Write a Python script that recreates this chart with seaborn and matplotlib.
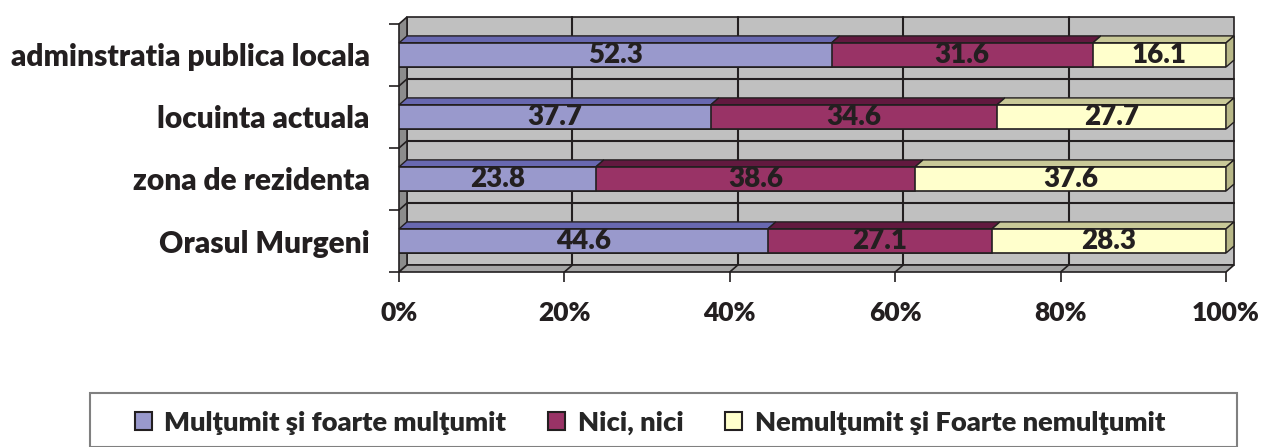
import numpy as np
import pandas as pd
import seaborn as sns
import matplotlib.pyplot as plt
from matplotlib.patches import Polygon, Rectangle, Patch

# data
categories = ['adminstratia publica locala', 'locuinta actuala', 'zona de rezidenta', 'Orasul Murgeni']
series = ['Mulţumit şi foarte mulţumit', 'Nici, nici', 'Nemulţumit şi Foarte nemulţumit']
multumit = [52.3, 37.7, 23.8, 44.6]
nici = [31.6, 34.6, 38.6, 27.1]
nemultumit = [16.1, 27.7, 37.6, 28.3]
x_ticks = [0, 20, 40, 60, 80, 100]
x_labels = ['0%', '20%', '40%', '60%', '80%', '100%']

front = ['#9999CC', '#993366', '#FFFFCC']
top = ['#6868B0', '#62193F', '#C9C998']
side_col = '#B8B888'
ink = '#231F20'
WT = 'heavy'

sns.set_style('white')
plt.rcParams['font.family'] = ['Lato', 'DejaVu Sans']
plt.rcParams['font.weight'] = WT

fig = plt.figure(figsize=(12.61, 4.47), dpi=100)
W, H = 1261, 447
# front plane of the plot: x 399..1226 px, y 24..272 px
ax = fig.add_axes([399 / W, 1 - 272 / H, 827 / W, 248 / H])

df = pd.DataFrame({'cat': categories, 'a': multumit, 'b': nici, 'c': nemultumit})
df['ab'] = df['a'] + df['b']
df['abc'] = df['ab'] + df['c']

bar_h = 0.39
# widest first, so stacked pieces sit on top
for col, c in zip(['abc', 'ab', 'a'], front[::-1]):
    sns.barplot(data=df, x=col, y='cat', orient='h', color=c, saturation=1,
                width=bar_h, edgecolor=ink, linewidth=1.2, ax=ax, zorder=3)

ax.set_xlim(0, 100)
ax.set_ylim(3.5, -0.5)

# 3d depth in data units
ddx = 8 / 827 * 100
ddy = 7 / 62

# back wall, left wall, floor
ax.add_patch(Polygon([(ddx, -0.5 - ddy), (100 + ddx, -0.5 - ddy), (100 + ddx, 3.5 - ddy), (ddx, 3.5 - ddy)],
                     closed=True, fc='#C0C0C0', ec=ink, lw=1.2, clip_on=False, zorder=0))
ax.add_patch(Polygon([(0, -0.5), (ddx, -0.5 - ddy), (ddx, 3.5 - ddy), (0, 3.5)],
                     closed=True, fc='#8C8C8C', ec=ink, lw=1.2, clip_on=False, zorder=1))
ax.add_patch(Polygon([(0, 3.5), (ddx, 3.5 - ddy), (100 + ddx, 3.5 - ddy), (100, 3.5)],
                     closed=True, fc='#A6A6A6', ec=ink, lw=1.2, clip_on=False, zorder=1))
for xv in x_ticks[1:-1]:
    ax.plot([xv + ddx, xv + ddx], [-0.5 - ddy, 3.5 - ddy], color=ink, lw=1.5, zorder=0.5, clip_on=False)
    ax.plot([xv, xv + ddx], [3.5, 3.5 - ddy], color=ink, lw=1.2, zorder=1.5, clip_on=False)
for yv in [0.5, 1.5, 2.5]:
    ax.plot([ddx, 100 + ddx], [yv - ddy, yv - ddy], color=ink, lw=1.5, zorder=0.5, clip_on=False)
    ax.plot([0, ddx], [yv, yv - ddy], color=ink, lw=1.2, zorder=1.5, clip_on=False)

# top faces and end faces of the bars
for i in range(len(categories)):
    yt = i - bar_h / 2
    yb = i + bar_h / 2
    edges = [0, multumit[i], multumit[i] + nici[i], multumit[i] + nici[i] + nemultumit[i]]
    for k in range(3):
        x0, x1 = edges[k], edges[k + 1]
        ax.add_patch(Polygon([(x0, yt), (x1, yt), (x1 + ddx, yt - ddy), (x0 + ddx, yt - ddy)],
                             closed=True, fc=top[k], ec=ink, lw=1.0, clip_on=False, zorder=2.5))
    xe = edges[-1]
    ax.add_patch(Polygon([(xe, yt), (xe, yb), (xe + ddx, yb - ddy), (xe + ddx, yt - ddy)],
                         closed=True, fc=side_col, ec=ink, lw=1.0, clip_on=False, zorder=2.5))
    # value labels
    for k in range(3):
        v = edges[k + 1] - edges[k]
        ax.text((edges[k] + edges[k + 1]) / 2, i, f'{v:.1f}', ha='center', va='center',
                fontsize=20, fontweight=WT, color=ink, zorder=4)

for s in ax.spines.values():
    s.set_visible(False)
ax.set_xlabel('')
ax.set_ylabel('')
ax.set_xticks(x_ticks)
ax.set_xticklabels(x_labels, fontsize=19, fontweight=WT, color=ink)
ax.tick_params(axis='x', length=7, width=1.2, color=ink, pad=14, direction='out', bottom=True)
ax.set_yticks(range(len(categories)))
ax.set_yticklabels(categories, fontsize=21.5, fontweight=WT, color=ink)
ax.set_yticks([-0.5, 0.5, 1.5, 2.5, 3.5], minor=True)
ax.tick_params(axis='y', which='major', length=0, pad=21)
ax.tick_params(axis='y', which='minor', length=7, width=1.2, color=ink, left=True)
ax.grid(False)

# legend in a box at the bottom
fig.patches.append(Rectangle((90 / W, 0), (1237 - 90) / W, 1 - 393 / H, transform=fig.transFigure,
                             fill=False, ec='#808080', lw=1.5))
handles = [Patch(fc=c, ec=ink, lw=1.5) for c in front]
fig.legend(handles, series, loc='center', bbox_to_anchor=(650 / W, 1 - 423 / H), ncol=3,
           frameon=False, handlelength=0.62, handleheight=0.62,
           handletextpad=0.45, columnspacing=1.55, prop={'weight': WT, 'size': 19.6})

fig.savefig('out.png', dpi=100)
